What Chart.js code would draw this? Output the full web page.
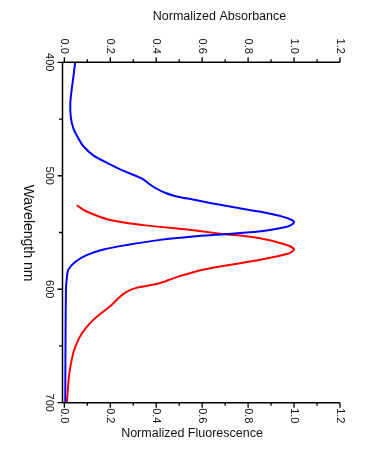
<!DOCTYPE html>
<html><head><meta charset="utf-8">
<script src="https://cdn.jsdelivr.net/npm/chart.js@4/dist/chart.umd.min.js"></script>
<style>html,body{margin:0;padding:0;background:#fff;}#wrap{width:369px;height:452px;position:relative;}</style>
</head><body><div id="wrap"><canvas id="c" width="369" height="452"></canvas></div>
<script>
// Absorbance (blue, top axis)
const absWavelength = [400,412,424,436,448,458,467,474,482,490,495,500,503,507,511,515,518,521,524,528,532,536,539,541,543,545,549,551.5,553.5,556.5,561,565,570,576,583,592,600,650,700];
const absValues     = [0.047,0.040,0.032,0.026,0.028,0.039,0.061,0.083,0.126,0.199,0.250,0.310,0.342,0.368,0.398,0.438,0.485,0.560,0.635,0.745,0.860,0.950,0.990,1.000,0.990,0.968,0.855,0.695,0.560,0.417,0.272,0.170,0.097,0.047,0.017,0.010,0.007,0.005,0.004];
// Fluorescence (red, bottom axis)
const flWavelength = [526,531.5,539,543.5,548,551,555,561,565,569,574,580,584,590,595,599,603,608,615,627,639,651,662,677,698,700];
const flValues     = [0.054,0.097,0.199,0.344,0.561,0.678,0.852,0.968,1.000,0.968,0.852,0.678,0.580,0.480,0.410,0.310,0.265,0.235,0.199,0.126,0.076,0.047,0.032,0.020,0.012,0.012];
// Tick labels
const valueTicks = ['0.0','0.2','0.4','0.6','0.8','1.0','1.2'];
const wavelengthTicks = ['400','500','600','700'];
const titleTop = 'Normalized Absorbance';
const titleBottom = 'Normalized Fluorescence';
const titleLeft = 'Wavelength nm';

const toPts = (xs, ys) => xs.map((w, i) => ({x: ys[i], y: w}));

const axesPlugin = {
  id: 'customAxes',
  afterDatasetsDraw(chart) {
    const {ctx, chartArea: a, scales} = chart;
    const xb = scales.x, xt = scales.x2, y = scales.y;
    ctx.save();
    ctx.strokeStyle = '#000';
    ctx.fillStyle = '#111';
    ctx.lineWidth = 1.5;
    ctx.beginPath();
    ctx.moveTo(a.left, a.top); ctx.lineTo(a.right, a.top);
    ctx.moveTo(a.left, a.bottom); ctx.lineTo(a.right, a.bottom);
    ctx.moveTo(a.left, a.top); ctx.lineTo(a.left, a.bottom);
    ctx.stroke();
    ctx.lineWidth = 1.3;
    ctx.beginPath();
    for (let i = 0; i <= 12; i++) {
      const v = i / 10;
      const len = i % 2 === 0 ? 5 : 3;
      const pt = xt.getPixelForValue(v);
      ctx.moveTo(pt, a.top); ctx.lineTo(pt, a.top - len);
      const pb = xb.getPixelForValue(v);
      ctx.moveTo(pb, a.bottom); ctx.lineTo(pb, a.bottom + len);
    }
    for (let w = 400; w <= 700; w += 50) {
      const len = w % 100 === 0 ? 5 : 3.5;
      const py = y.getPixelForValue(w);
      ctx.moveTo(a.left, py); ctx.lineTo(a.left - len, py);
    }
    ctx.stroke();
    ctx.font = '11px "Liberation Sans", Arial, sans-serif';
    ctx.textBaseline = 'middle';
    valueTicks.forEach(t => {
      const v = parseFloat(t);
      ctx.save();
      ctx.translate(xt.getPixelForValue(v), a.top - 8.5);
      ctx.rotate(Math.PI / 2);
      ctx.textAlign = 'right';
      ctx.fillText(t, 0, 0);
      ctx.restore();
      ctx.save();
      ctx.translate(xb.getPixelForValue(v), a.bottom + 5.5);
      ctx.rotate(Math.PI / 2);
      ctx.textAlign = 'left';
      ctx.fillText(t, 0, 0);
      ctx.restore();
    });
    wavelengthTicks.forEach(t => {
      ctx.save();
      ctx.translate(a.left - 13.5, y.getPixelForValue(parseFloat(t)));
      ctx.rotate(Math.PI / 2);
      ctx.textAlign = 'center';
      ctx.fillText(t, 0, 0);
      ctx.restore();
    });
    ctx.font = '12.5px "Liberation Sans", Arial, sans-serif';
    ctx.textAlign = 'center';
    ctx.fillText(titleTop, 219.5, 17);
    ctx.fillText(titleBottom, 192, 434);
    ctx.save();
    ctx.font = '14px "Liberation Sans", Arial, sans-serif';
    ctx.translate(28, 233);
    ctx.rotate(Math.PI / 2);
    ctx.fillText(titleLeft, 0, 0);
    ctx.restore();
    ctx.restore();
  }
};

new Chart(document.getElementById('c'), {
  type: 'scatter',
  data: {
    datasets: [
      {label: 'Absorbance', data: toPts(absWavelength, absValues), xAxisID: 'x2', yAxisID: 'y',
       showLine: true, borderColor: '#0000ff', borderWidth: 2, pointRadius: 0, tension: 0.3, fill: false},
      {label: 'Fluorescence', data: toPts(flWavelength, flValues), xAxisID: 'x', yAxisID: 'y',
       showLine: true, borderColor: '#ff0000', borderWidth: 2, pointRadius: 0, tension: 0.3, fill: false}
    ]
  },
  options: {
    responsive: false,
    animation: false,
    layout: {padding: {left: 62.5, top: 62.3, right: 29, bottom: 49.3}},
    plugins: {legend: {display: false}, tooltip: {enabled: false}},
    scales: {
      x: {type: 'linear', position: 'bottom', min: -0.008, max: 1.2, display: false},
      x2: {type: 'linear', position: 'top', min: -0.008, max: 1.2, display: false},
      y: {type: 'linear', reverse: true, min: 400, max: 700, display: false}
    }
  },
  plugins: [axesPlugin]
});
</script></body></html>
